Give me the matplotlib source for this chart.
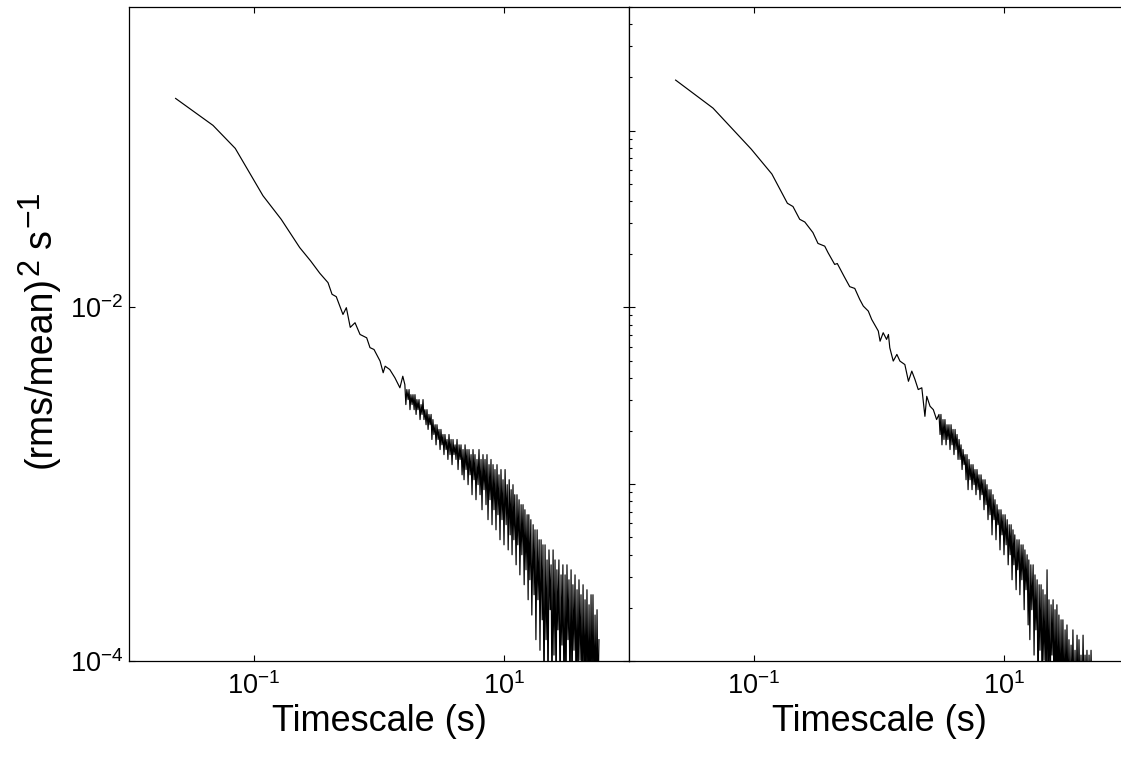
import numpy as np
import matplotlib.pyplot as plt
from matplotlib.ticker import FixedLocator, LogLocator, NullLocator, NullFormatter

plt.rcParams['font.family'] = 'Liberation Sans'
plt.rcParams['mathtext.fontset'] = 'custom'
plt.rcParams['mathtext.rm'] = 'Liberation Sans'
plt.rcParams['mathtext.it'] = 'Liberation Sans:italic'
plt.rcParams['mathtext.bf'] = 'Liberation Sans:bold'

# left panel: smooth low-frequency part, then the noisy part
freq_left = [0.0236, 0.0470, 0.0708, 0.118, 0.165, 0.232, 0.284, 0.336, 0.391, 0.421,
             0.455, 0.515, 0.548, 0.589, 0.643, 0.705, 0.797, 0.847, 0.912, 1.02,
             1.08, 1.12, 1.22, 1.34, 1.47, 1.55]
psd_left = [0.152, 0.107, 0.0793, 0.0428, 0.0315, 0.0218, 0.0183, 0.0156, 0.0138, 0.01186,
            0.0115, 0.00912, 0.00996, 0.00771, 0.00819, 0.00703, 0.00673, 0.00592, 0.00578, 0.00497,
            0.00427, 0.00465, 0.00445, 0.0040, 0.00351, 0.00408]

freq_left_noisy = [1.61, 1.64, 1.67, 1.71, 1.74, 1.77, 1.80, 1.84, 1.87, 1.91,
                   1.94, 1.98, 2.01, 2.05, 2.09, 2.13, 2.17, 2.21, 2.25, 2.29,
                   2.33, 2.38, 2.42, 2.47, 2.51, 2.56, 2.61, 2.65, 2.70, 2.75,
                   2.81, 2.86, 2.91, 2.97, 3.02, 3.08, 3.13, 3.19, 3.25, 3.31,
                   3.37, 3.44, 3.50, 3.56, 3.63, 3.70, 3.77, 3.84, 3.91, 3.98,
                   4.06, 4.13, 4.21, 4.29, 4.37, 4.45, 4.53, 4.62, 4.70, 4.79,
                   4.88, 4.97, 5.06, 5.16, 5.25, 5.35, 5.45, 5.55, 5.65, 5.76,
                   5.86, 5.97, 6.08, 6.20, 6.31, 6.43, 6.55, 6.67, 6.79, 6.92,
                   7.05, 7.18, 7.31, 7.45, 7.59, 7.73, 7.87, 8.02, 8.17, 8.32,
                   8.47, 8.63, 8.79, 8.95, 9.12, 9.29, 9.46, 9.64, 9.82, 10.0,
                   10.2, 10.4, 10.6, 10.8, 11.0, 11.2, 11.4, 11.6, 11.8, 12.0,
                   12.2, 12.5, 12.7, 12.9, 13.2, 13.4, 13.7, 13.9, 14.2, 14.5,
                   14.7, 15.0, 15.3, 15.6, 15.8, 16.1, 16.4, 16.7, 17.1, 17.4,
                   17.7, 18.0, 18.4, 18.7, 19.1, 19.4, 19.8, 20.2, 20.5, 20.9,
                   21.3, 21.7, 22.1, 22.5, 22.9, 23.4, 23.8, 24.2, 24.7, 25.1,
                   25.6, 26.1, 26.5, 27.0, 27.5, 28.1, 28.6, 29.1, 29.6, 30.2,
                   30.8, 31.3, 31.9, 32.5, 33.1, 33.7, 34.4, 35.0, 35.6, 36.3,
                   37.0, 37.7, 38.4, 39.1, 39.8, 40.6, 41.3, 42.1, 42.9, 43.7,
                   44.5, 45.3, 46.1, 47.0, 47.9, 48.8, 49.7, 50.6, 51.5, 52.5,
                   53.5, 54.5, 55.5, 56.5, 57.5]
psd_left_noisy = [3.66e-3, 2.82e-3, 3.43e-3, 3.01e-3, 3.43e-3, 2.64e-3, 3.21e-3, 2.82e-3, 3.21e-3, 2.64e-3,
                  3.21e-3, 2.48e-3, 3.01e-3, 2.64e-3, 3.01e-3, 2.32e-3, 2.82e-3, 2.48e-3, 3.01e-3, 2.32e-3,
                  2.64e-3, 2.17e-3, 2.64e-3, 2.04e-3, 2.48e-3, 2.17e-3, 2.48e-3, 1.79e-3, 2.32e-3, 1.91e-3,
                  2.17e-3, 1.67e-3, 2.17e-3, 1.79e-3, 2.04e-3, 1.57e-3, 2.04e-3, 1.67e-3, 1.91e-3, 1.47e-3,
                  1.91e-3, 1.57e-3, 1.79e-3, 1.38e-3, 1.91e-3, 1.47e-3, 1.79e-3, 1.29e-3, 1.79e-3, 1.47e-3,
                  1.67e-3, 1.38e-3, 1.79e-3, 1.21e-3, 1.67e-3, 1.38e-3, 1.67e-3, 1.13e-3, 1.57e-3, 1.06e-3,
                  1.67e-3, 1.21e-3, 1.57e-3, 9.94e-4, 1.57e-3, 1.13e-3, 1.47e-3, 8.72e-4, 1.57e-3, 1.06e-3,
                  1.47e-3, 8.17e-4, 1.38e-3, 9.94e-4, 1.57e-3, 8.72e-4, 1.38e-3, 7.17e-4, 1.47e-3, 9.31e-4,
                  1.38e-3, 7.66e-4, 1.47e-3, 6.30e-4, 1.29e-3, 8.17e-4, 1.38e-3, 5.90e-4, 1.29e-3, 7.17e-4,
                  1.21e-3, 5.52e-4, 1.29e-3, 6.72e-4, 1.13e-3, 4.85e-4, 1.21e-3, 6.30e-4, 1.06e-3, 4.54e-4,
                  1.21e-3, 5.90e-4, 9.94e-4, 4.25e-4, 1.06e-3, 5.17e-4, 9.31e-4, 3.99e-4, 9.94e-4, 4.85e-4,
                  8.72e-4, 3.50e-4, 8.72e-4, 4.54e-4, 8.17e-4, 3.07e-4, 7.66e-4, 3.99e-4, 7.66e-4, 2.70e-4,
                  7.17e-4, 3.28e-4, 6.72e-4, 2.22e-4, 6.72e-4, 2.88e-4, 6.30e-4, 1.82e-4, 5.90e-4, 2.37e-4,
                  5.52e-4, 1.32e-4, 5.52e-4, 2.22e-4, 4.85e-4, 1.15e-4, 4.85e-4, 1.71e-4, 4.54e-4, 6.0e-5,
                  4.54e-4, 1.32e-4, 3.73e-4, 6.0e-5, 4.25e-4, 1.95e-4, 3.50e-4, 6.0e-5, 4.25e-4, 1.08e-4,
                  3.73e-4, 6.0e-5, 3.28e-4, 1.50e-4, 3.73e-4, 6.0e-5, 3.07e-4, 1.23e-4, 3.50e-4, 6.0e-5,
                  3.07e-4, 6.0e-5, 3.50e-4, 1.32e-4, 2.88e-4, 6.0e-5, 3.28e-4, 6.0e-5, 2.70e-4, 1.15e-4,
                  3.07e-4, 6.0e-5, 2.53e-4, 6.0e-5, 2.88e-4, 1.01e-4, 2.37e-4, 6.0e-5, 2.70e-4, 6.0e-5,
                  2.22e-4, 6.0e-5, 2.53e-4, 6.0e-5, 2.08e-4, 6.0e-5, 2.37e-4, 6.0e-5, 2.37e-4, 6.0e-5,
                  1.82e-4, 6.0e-5, 1.95e-4, 6.0e-5, 1.32e-4]

# right panel
freq_right = [0.0236, 0.0470, 0.0951, 0.139, 0.185, 0.205, 0.232, 0.255, 0.296, 0.325,
              0.368, 0.391, 0.442, 0.464, 0.525, 0.583, 0.640, 0.701, 0.749, 0.821,
              0.874, 0.987, 1.02, 1.08, 1.15, 1.19, 1.22, 1.30, 1.39, 1.47,
              1.61, 1.72, 1.83, 1.94, 2.06, 2.20, 2.33, 2.41, 2.56, 2.72, 2.89]
psd_right = [0.193, 0.134, 0.0785, 0.0568, 0.0388, 0.0372, 0.0315, 0.0304, 0.0265, 0.0230,
             0.0222, 0.0204, 0.0175, 0.0177, 0.0150, 0.0131, 0.0128, 0.0111, 0.01017, 0.00953,
             0.00855, 0.00735, 0.00644, 0.00719, 0.00659, 0.00703, 0.00591, 0.00497, 0.00542, 0.00497,
             0.00475, 0.00382, 0.00436, 0.00391, 0.00343, 0.00351, 0.00242, 0.00314, 0.00276, 0.00264, 0.00232]

freq_right_noisy = [3.02, 3.08, 3.13, 3.19, 3.25, 3.31, 3.37, 3.44, 3.50, 3.56,
                    3.63, 3.70, 3.77, 3.84, 3.91, 3.98, 4.06, 4.13, 4.21, 4.29,
                    4.37, 4.45, 4.53, 4.62, 4.70, 4.79, 4.88, 4.97, 5.06, 5.16,
                    5.25, 5.35, 5.45, 5.55, 5.65, 5.76, 5.86, 5.97, 6.08, 6.20,
                    6.31, 6.43, 6.55, 6.67, 6.79, 6.92, 7.05, 7.18, 7.31, 7.45,
                    7.59, 7.73, 7.87, 8.02, 8.17, 8.32, 8.47, 8.63, 8.79, 8.95,
                    9.12, 9.29, 9.46, 9.64, 9.82, 10.0, 10.2, 10.4, 10.6, 10.8,
                    11.0, 11.2, 11.4, 11.6, 11.8, 12.0, 12.2, 12.5, 12.7, 12.9,
                    13.2, 13.4, 13.7, 13.9, 14.2, 14.5, 14.7, 15.0, 15.3, 15.6,
                    15.8, 16.1, 16.4, 16.7, 17.1, 17.4, 17.7, 18.0, 18.4, 18.7,
                    19.1, 19.4, 19.8, 20.2, 20.5, 20.9, 21.3, 21.7, 22.1, 22.5,
                    22.9, 23.4, 23.8, 24.2, 24.7, 25.1, 25.6, 26.1, 26.5, 27.0,
                    27.5, 28.1, 28.6, 29.1, 29.6, 30.2, 30.8, 31.3, 31.9, 32.5,
                    33.1, 33.7, 34.4, 35.0, 35.6, 36.3, 37.0, 37.7, 38.4, 39.1,
                    39.8, 40.6, 41.3, 42.1, 42.9, 43.7, 44.5, 45.3, 46.1, 47.0,
                    47.9, 48.8, 49.7, 50.6, 51.5]
psd_right_noisy = [2.48e-3, 1.91e-3, 2.48e-3, 1.67e-3, 2.32e-3, 1.79e-3, 2.32e-3, 1.67e-3, 2.17e-3, 1.79e-3,
                   2.17e-3, 1.57e-3, 2.17e-3, 1.67e-3, 2.04e-3, 1.47e-3, 2.04e-3, 1.57e-3, 1.91e-3, 1.38e-3,
                   1.79e-3, 1.38e-3, 1.67e-3, 1.21e-3, 1.57e-3, 1.29e-3, 1.47e-3, 1.06e-3, 1.47e-3, 9.31e-4,
                   1.38e-3, 1.06e-3, 1.29e-3, 9.31e-4, 1.29e-3, 9.94e-4, 1.21e-3, 8.72e-4, 1.21e-3, 9.31e-4,
                   1.13e-3, 8.17e-4, 1.13e-3, 8.72e-4, 1.06e-3, 7.17e-4, 1.06e-3, 7.66e-4, 9.94e-4, 6.30e-4,
                   9.31e-4, 6.72e-4, 9.31e-4, 5.17e-4, 8.72e-4, 6.30e-4, 8.17e-4, 4.85e-4, 7.66e-4, 5.90e-4,
                   7.17e-4, 4.25e-4, 7.17e-4, 5.17e-4, 6.72e-4, 3.99e-4, 6.72e-4, 4.54e-4, 6.30e-4, 3.50e-4,
                   5.90e-4, 3.99e-4, 5.90e-4, 2.88e-4, 5.52e-4, 3.50e-4, 5.17e-4, 2.53e-4, 4.85e-4, 3.28e-4,
                   4.85e-4, 2.37e-4, 4.54e-4, 2.88e-4, 4.54e-4, 1.95e-4, 4.25e-4, 2.53e-4, 3.99e-4, 1.60e-4,
                   3.73e-4, 1.32e-4, 3.50e-4, 1.95e-4, 3.50e-4, 1.08e-4, 3.07e-4, 1.50e-4, 2.88e-4, 6.0e-5,
                   2.70e-4, 1.15e-4, 2.70e-4, 6.0e-5, 2.53e-4, 1.01e-4, 2.37e-4, 6.0e-5, 3.28e-4, 6.0e-5,
                   2.22e-4, 6.0e-5, 2.08e-4, 1.08e-4, 2.22e-4, 6.0e-5, 1.95e-4, 6.0e-5, 2.08e-4, 6.0e-5,
                   1.82e-4, 6.0e-5, 1.71e-4, 6.0e-5, 1.71e-4, 6.0e-5, 1.50e-4, 6.0e-5, 1.60e-4, 6.0e-5,
                   1.32e-4, 6.0e-5, 1.23e-4, 6.0e-5, 1.50e-4, 6.0e-5, 1.15e-4, 6.0e-5, 1.40e-4, 6.0e-5,
                   1.32e-4, 6.0e-5, 1.08e-4, 6.0e-5, 1.40e-4, 6.0e-5, 1.08e-4, 6.0e-5, 1.15e-4, 6.0e-5,
                   1.08e-4, 6.0e-5, 1.15e-4, 6.0e-5, 6.0e-5]

x_ticks = [0.1, 10]
y_ticks_left = [1e-4, 1e-2]
xlim = (0.01, 100)
ylim = (1e-4, 0.5)

W, H = 1121, 757
fig = plt.figure(figsize=(W / 100, H / 100), dpi=100)
ax1 = fig.add_axes([129 / W, 1 - 661 / H, 500 / W, 654 / H])
ax2 = fig.add_axes([629 / W, 1 - 661 / H, 500 / W, 654 / H])

for ax, f, p, fn, pn in [(ax1, freq_left, psd_left, freq_left_noisy, psd_left_noisy),
                         (ax2, freq_right, psd_right, freq_right_noisy, psd_right_noisy)]:
    ax.plot(np.array(f + fn), np.array(p + pn), color='k', lw=0.85)
    ax.set_xscale('log')
    ax.set_yscale('log')
    ax.set_xlim(*xlim)
    ax.set_ylim(*ylim)
    ax.xaxis.set_major_locator(FixedLocator(x_ticks))
    ax.xaxis.set_minor_locator(NullLocator())
    ax.tick_params(which='both', direction='in', top=True, right=True, width=0.8)
    ax.tick_params(which='major', length=4.5, labelsize=19.5)
    ax.tick_params(which='minor', length=2.2)
    ax.tick_params(axis='x', pad=8)
    for s in ax.spines.values():
        s.set_linewidth(0.9)
    ax.set_xlabel('Timescale (s)', fontsize=26, labelpad=3)

ax1.yaxis.set_major_locator(FixedLocator(y_ticks_left))
ax1.yaxis.set_minor_locator(NullLocator())
ax1.tick_params(axis='y', pad=4)

ax2.yaxis.set_major_locator(LogLocator(base=10))
ax2.yaxis.set_minor_locator(LogLocator(base=10, subs=np.arange(2, 10)))
ax2.yaxis.set_major_formatter(NullFormatter())
ax2.yaxis.set_minor_formatter(NullFormatter())

# y label built from pieces so the superscripts can be large, like the original
ylabel_parts = [('(rms/mean)', 27, 0), ('2', 22, 13), ('s', 27, 0), ('\u22121', 23, 13)]
ylabel_gaps = [0, 1, 10, 2]
renderer = fig.canvas.get_renderer()
x_base = 51
y_pos = H - 468
for (txt, size, lift), gap in zip(ylabel_parts, ylabel_gaps):
    y_pos += gap
    t = fig.text((x_base - lift) / W, y_pos / H, txt, fontsize=size, rotation=90,
                 rotation_mode='anchor', ha='left', va='baseline')
    y_pos += t.get_window_extent(renderer).height

fig.savefig('out.png', dpi=100)
